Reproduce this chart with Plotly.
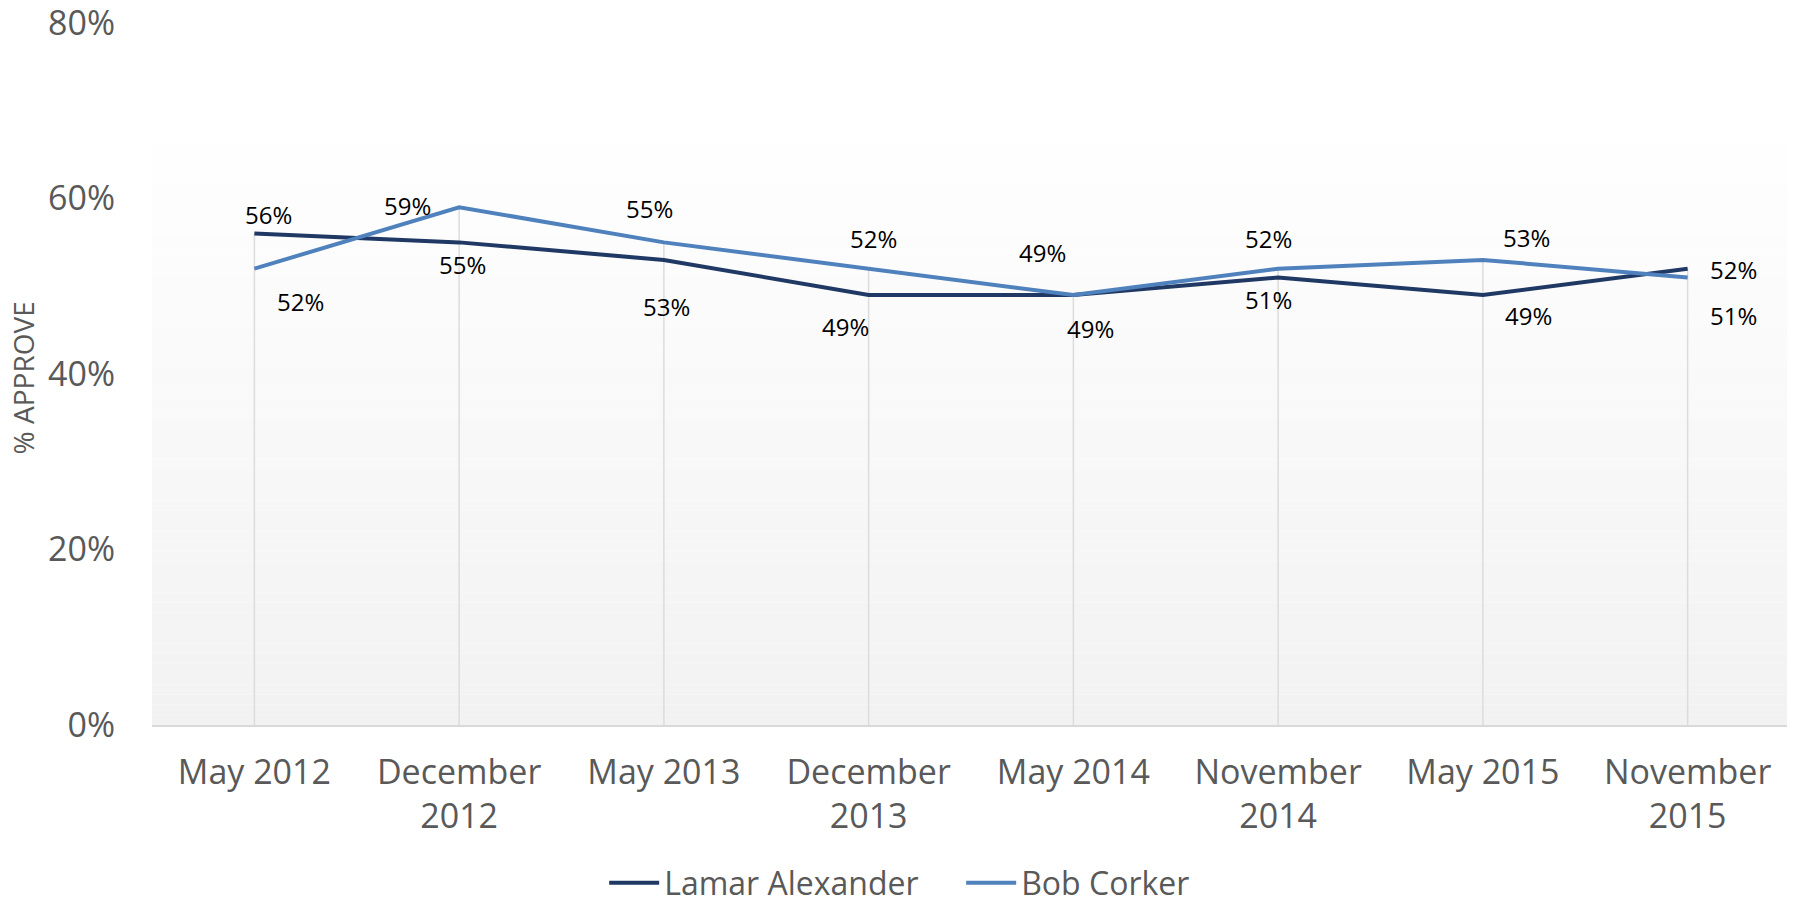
import plotly.graph_objects as go

periods = ["May 2012", "December<br>2012", "May 2013", "December<br>2013",
           "May 2014", "November<br>2014", "May 2015", "November<br>2015"]
alexander = [56, 55, 53, 49, 49, 51, 49, 52]
corker = [52, 59, 55, 52, 49, 52, 53, 51]
y_ticks = [0, 20, 40, 60, 80]

# label offsets (px) as placed in the original chart
alex_off = [(14, 19), (3, -22), (3, -47), (-23, -31), (17, -33), (-10, -22), (46, -20), (46, -1)]
cork_off = [(46, -33), (-52, 2), (-14, 34), (5, 30), (-31, 43), (-10, 30), (44, 22), (46, -38)]

navy = "#1F3864"
blue = "#4F81BD"
grey_txt = "#595959"
font = "Open Sans"

fig = go.Figure()

# drop lines from the highest point down to the axis
drop_x, drop_y = [], []
for p, a, c in zip(periods, alexander, corker):
    drop_x += [p, p, None]
    drop_y += [0, max(a, c), None]
fig.add_trace(go.Scatter(x=drop_x, y=drop_y, mode="lines",
                         line=dict(color="#DCDCDC", width=1.5),
                         hoverinfo="skip", showlegend=False))

fig.add_trace(go.Scatter(x=periods, y=alexander, mode="lines", name="Lamar Alexander",
                         line=dict(color=navy, width=4)))
fig.add_trace(go.Scatter(x=periods, y=corker, mode="lines", name="Bob Corker",
                         line=dict(color=blue, width=4)))

annotations = []
for vals, offs in ((alexander, alex_off), (corker, cork_off)):
    for p, v, (dx, dy) in zip(periods, vals, offs):
        annotations.append(dict(x=p, y=v, text=f"{v}%", showarrow=False,
                                xshift=dx, yshift=dy,
                                font=dict(family=font, size=24, color="#000000")))

annotations.append(dict(xref="paper", yref="paper", x=-0.0788, y=0.495,
                        xanchor="center", yanchor="middle",
                        text="% APPROVE", textangle=-90, showarrow=False,
                        font=dict(family=font, size=28, color=grey_txt)))

# soft vertical gradient for the plot area
shapes = []
n = 60
top = 0.872
for i in range(n):
    t = i / (n - 1)
    g = int(round(242 + (255 - 242) * t))
    shapes.append(dict(type="rect", xref="paper", yref="paper", layer="below",
                       x0=0, x1=1, y0=top * i / n, y1=top * (i + 1) / n,
                       fillcolor=f"rgb({g},{g},{g})", line=dict(width=0)))

# page body adds an 8px offset, margins account for it
fig.update_layout(
    width=1795, height=904,
    margin=dict(l=144, r=13, t=15, b=187, autoexpand=False),
    plot_bgcolor="white", paper_bgcolor="white",
    font=dict(family=font, color=grey_txt),
    shapes=shapes,
    annotations=annotations,
    legend=dict(orientation="h", x=0.494, xanchor="center", y=-0.225, yanchor="middle",
                font=dict(family=font, size=32, color=grey_txt),
                itemwidth=50, entrywidth=292),
    showlegend=True,
)

fig.update_xaxes(
    range=[-0.5, 7.5], showgrid=False, zeroline=False,
    showline=True, linecolor="#D9D9D9", linewidth=2,
    tickfont=dict(family=font, size=34, color=grey_txt),
    ticks="", ticklabelstandoff=16, automargin=False,
)

fig.update_yaxes(
    range=[0, 80], tickvals=y_ticks, ticktext=[f"{t}%" for t in y_ticks],
    showgrid=False, zeroline=False, showline=False,
    tickfont=dict(family=font, size=34, color=grey_txt),
    ticks="", ticklabelstandoff=36, automargin=False,
    ticklabeloverflow="allow",
)

fig.write_html("out.html")
